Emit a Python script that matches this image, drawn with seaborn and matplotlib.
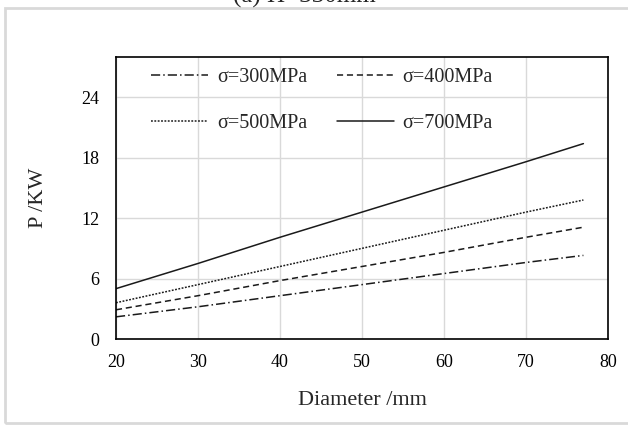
import matplotlib
matplotlib.use('Agg')
import matplotlib.pyplot as plt
from matplotlib.patches import Rectangle
import pandas as pd
import seaborn as sns

# --- Data ---
diameter = [20, 30, 40, 50, 60, 70, 77]
p_300 = [2.2, 3.2, 4.3, 5.4, 6.5, 7.6, 8.3]
p_400 = [2.9, 4.3, 5.8, 7.2, 8.6, 10.1, 11.1]
p_500 = [3.6, 5.4, 7.2, 9.0, 10.8, 12.6, 13.8]
p_700 = [5.0, 7.5, 10.1, 12.6, 15.1, 17.6, 19.4]

labels = ['σ=300MPa', 'σ=400MPa', 'σ=500MPa', 'σ=700MPa']
series = [p_300, p_400, p_500, p_700]
styles = [(0, (6, 2, 1, 2)), (0, (4, 2.5)), (0, (1.2, 1)), '-']

x_ticks = [20, 30, 40, 50, 60, 70, 80]
y_ticks = [0, 6, 12, 18, 24]

df = pd.concat(
    [pd.DataFrame({'Diameter': diameter, 'P': vals, 'sigma': lab})
     for lab, vals in zip(labels, series)],
    ignore_index=True)

# --- Plotting ---
sns.set_style('white')
plt.rcParams['font.family'] = ['Liberation Serif', 'DejaVu Serif']

fig = plt.figure(figsize=(6.28, 4.28), dpi=100)
ax = fig.add_axes([116 / 628, 1 - 339 / 428, (608 - 116) / 628, (339 - 57) / 428])

# light grey outer frame of the chart area (right edge runs off the image)
fig.patches.append(Rectangle((5 / 628, 1 - 423 / 428), 660 / 628, (423 - 8) / 428,
                             transform=fig.transFigure, fill=False,
                             edgecolor='#d9d9d9', linewidth=2, zorder=0))

handles = {}
for lab, ls in zip(labels, styles):
    sub = df[df['sigma'] == lab]
    sns.lineplot(data=sub, x='Diameter', y='P', ax=ax, color='#1a1a1a',
                 linewidth=1.1, linestyle=ls, label=lab, legend=False)
    handles[lab] = ax.lines[-1]

ax.set_xlim(20, 80)
ax.set_ylim(0, 28)
ax.set_xticks(x_ticks)
ax.set_yticks(y_ticks)
ax.grid(True, color='#d9d9d9', linewidth=1)
ax.set_axisbelow(True)
ax.tick_params(direction='in', length=5, width=1, labelsize=13, colors='black')
ax.tick_params(axis='x', pad=11)
ax.tick_params(axis='y', pad=12)
for s in ax.spines.values():
    s.set_color('black')
    s.set_linewidth(1.2)

ax.set_xlabel('Diameter /mm', fontsize=16, labelpad=14)
ax.set_ylabel('P /KW', fontsize=16, labelpad=24)

# legend: row-wise order 300,400 / 500,700
order = [labels[0], labels[2], labels[1], labels[3]]
ax.legend([handles[l] for l in order], order, ncol=2, frameon=False,
          fontsize=14.5, handlelength=2.8, handletextpad=0.45,
          columnspacing=1.5, labelspacing=1.35,
          loc='upper left', bbox_to_anchor=(0.035, 1.025))

# title is clipped at the top edge in the reference
fig.text(0.485, 1 - 3 / 428, '(a) H=330mm', fontsize=18, ha='center', va='baseline')

fig.savefig('out.png', dpi=100)
